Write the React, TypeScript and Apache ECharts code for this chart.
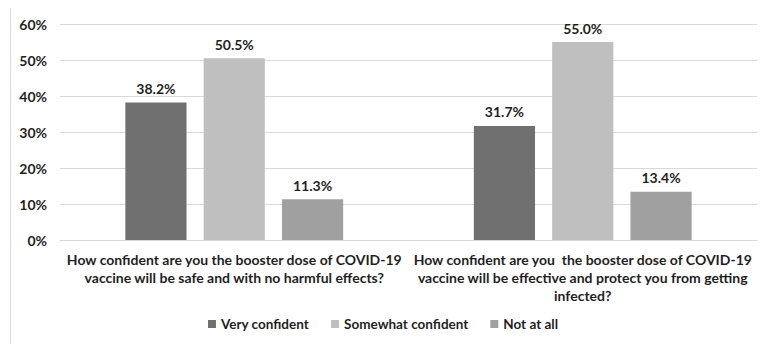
import React, { useEffect, useRef } from "react";
import * as echarts from "echarts";

const categories = [
  "How confident are you the booster dose of COVID-19\nvaccine will be safe and with no harmful effects?",
  "How confident are you  the booster dose of COVID-19\nvaccine will be effective and protect you from getting\ninfected?",
];
const veryConfident = [38.2, 31.7];
const somewhatConfident = [50.5, 55.0];
const notAtAll = [11.3, 13.4];
const yTicks = [0, 10, 20, 30, 40, 50, 60];

const FONT = "Lato";
const TEXT = "#1f1f1f";

export default function App() {
  const ref = useRef<HTMLDivElement>(null);
  useEffect(() => {
    if (!ref.current) return;
    const chart = echarts.init(ref.current, undefined, { renderer: "svg" });
    const label = {
      show: true,
      position: "top" as const,
      distance: 7,
      formatter: (p: any) => `${Number(p.value).toFixed(1)}%`,
      fontFamily: FONT,
      fontWeight: "bold" as const,
      fontSize: 14,
      color: TEXT,
    };
    const mk = (name: string, data: number[], color: string) => ({
      name,
      type: "bar" as const,
      data,
      barGap: "28%",
      barCategoryGap: "37.5%",
      itemStyle: { color },
      label,
    });
    chart.setOption({
      animation: false,
      backgroundColor: "#fff",
      graphic: [
        {
          type: "rect",
          shape: { x: 10.5, y: 6.5, width: 770, height: 343 },
          style: { fill: "none", stroke: "#d9d9d9", lineWidth: 1 },
          silent: true,
        },
      ],
      grid: { left: 60, right: 9, top: 24, bottom: 112 },
      legend: {
        bottom: 16,
        left: "center",
        itemWidth: 8,
        itemHeight: 8,
        itemGap: 22,
        icon: "rect",
        textStyle: { fontFamily: FONT, fontWeight: "bold", fontSize: 13.5, color: TEXT },
        data: ["Very confident", "Somewhat confident", "Not at all"],
      },
      xAxis: {
        type: "category",
        data: categories,
        axisLine: { lineStyle: { color: "#d9d9d9" } },
        axisTick: { show: false },
        axisLabel: {
          fontFamily: FONT,
          fontWeight: "bold",
          fontSize: 14,
          color: TEXT,
          lineHeight: 18,
          margin: 10,
          interval: 0,
          align: "center",
        },
      },
      yAxis: {
        type: "value",
        min: yTicks[0],
        max: yTicks[yTicks.length - 1],
        interval: 10,
        axisLine: { show: false },
        axisTick: { show: false },
        splitLine: { lineStyle: { color: "#d9d9d9" } },
        axisLabel: {
          formatter: "{value}%",
          fontFamily: FONT,
          fontWeight: "bold",
          fontSize: 14,
          color: TEXT,
          margin: 13,
        },
      },
      series: [
        mk("Very confident", veryConfident, "#707070"),
        mk("Somewhat confident", somewhatConfident, "#bfbfbf"),
        mk("Not at all", notAtAll, "#a0a0a0"),
      ],
    });
    return () => chart.dispose();
  }, []);
  return <div ref={ref} style={{ width: 766, height: 352, margin: -8 }} />;
}
